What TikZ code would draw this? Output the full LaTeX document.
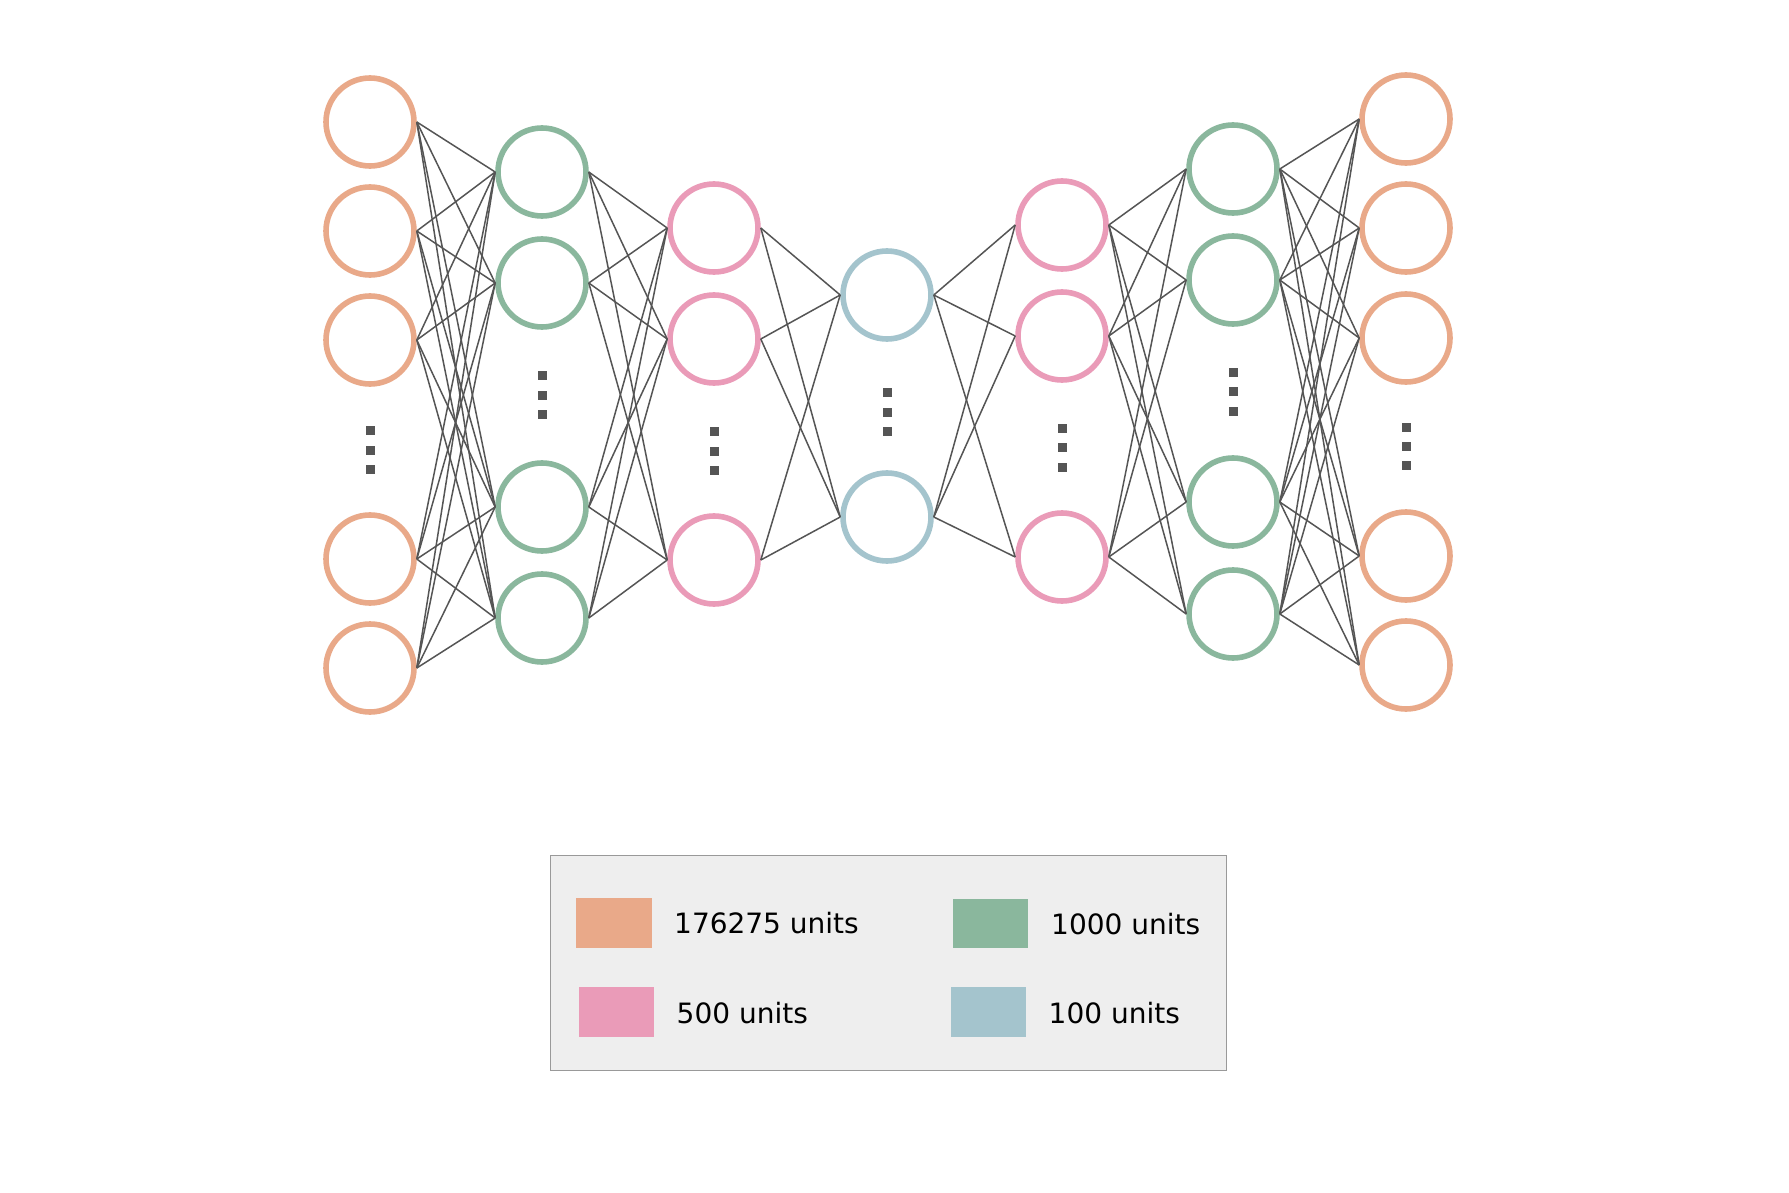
\documentclass[tikz,border=0pt]{standalone}
\usepackage{fontspec}
\setmainfont{DejaVu Sans}
\definecolor{corange}{HTML}{E9A989}
\definecolor{cgreen}{HTML}{8AB79D}
\definecolor{cpink}{HTML}{EA9BB8}
\definecolor{cblue}{HTML}{A4C4CD}
\definecolor{cedge}{HTML}{555555}
\definecolor{clegbg}{HTML}{EEEEEE}
\definecolor{clegframe}{HTML}{999999}
\begin{document}
\begin{tikzpicture}[x=1pt,y=-1pt,
  neuron/.style={circle,draw=#1,line width=5.6pt,minimum size=88pt,inner sep=0pt,fill=white},
  edge/.style={draw=cedge,line width=1.5pt},
  vdot/.style={rectangle,fill=cedge,minimum size=9pt,inner sep=0pt},
  swatch/.style={fill=#1,draw=none},
  leglabel/.style={anchor=west,font=\fontsize{28}{30}\selectfont,inner sep=0pt}]
\useasboundingbox[fill=white] (0,0) rectangle (1789,1193);

% layers
\foreach \y [count=\i] in {122,231,340,559,668} \node[neuron=corange] (A\i) at (370,\y) {};
\foreach \y [count=\i] in {172,283,507,618} \node[neuron=cgreen] (B\i) at (542,\y) {};
\foreach \y [count=\i] in {228,339,560} \node[neuron=cpink] (C\i) at (714,\y) {};
\foreach \y [count=\i] in {295,517} \node[neuron=cblue] (D\i) at (887,\y) {};
\foreach \y [count=\i] in {225,336,557} \node[neuron=cpink] (E\i) at (1062,\y) {};
\foreach \y [count=\i] in {169,280,502,614} \node[neuron=cgreen] (F\i) at (1233,\y) {};
\foreach \y [count=\i] in {119,228,338,556,665} \node[neuron=corange] (G\i) at (1406,\y) {};

% connections
\foreach \i in {1,...,5} \foreach \j in {1,...,4} \draw[edge] (A\i.east) -- (B\j.west);
\foreach \i in {1,...,4} \foreach \j in {1,...,3} \draw[edge] (B\i.east) -- (C\j.west);
\foreach \i in {1,...,3} \foreach \j in {1,2} \draw[edge] (C\i.east) -- (D\j.west);
\foreach \i in {1,2} \foreach \j in {1,...,3} \draw[edge] (D\i.east) -- (E\j.west);
\foreach \i in {1,...,3} \foreach \j in {1,...,4} \draw[edge] (E\i.east) -- (F\j.west);
\foreach \i in {1,...,4} \foreach \j in {1,...,5} \draw[edge] (F\i.east) -- (G\j.west);

% ellipsis dots
\foreach \y [count=\k] in {430,450,469} \node[vdot] (dA\k) at (370,\y) {};
\foreach \y [count=\k] in {375,395,414} \node[vdot] (dB\k) at (542,\y) {};
\foreach \y [count=\k] in {431,451,470} \node[vdot] (dC\k) at (714,\y) {};
\foreach \y [count=\k] in {392,412,431} \node[vdot] (dD\k) at (887,\y) {};
\foreach \y [count=\k] in {428,447,467} \node[vdot] (dE\k) at (1062,\y) {};
\foreach \y [count=\k] in {372,391,411} \node[vdot] (dF\k) at (1233,\y) {};
\foreach \y [count=\k] in {427,446,465} \node[vdot] (dG\k) at (1406,\y) {};

% legend
\draw[fill=clegbg,draw=clegframe,line width=1pt] (550,855) rectangle (1226,1070);
\fill[swatch=corange] (576,898) rectangle (651.5,948);
\fill[swatch=cgreen] (953,899) rectangle (1028,948);
\fill[swatch=cpink] (578.5,987) rectangle (654,1037);
\fill[swatch=cblue] (950.5,987) rectangle (1026,1037);
\node[leglabel] (l1) at (674,923) {176275 units};
\node[leglabel] (l2) at (1051,924) {1000 units};
\node[leglabel] (l3) at (676.5,1013) {500 units};
\node[leglabel] (l4) at (1048.5,1013) {100 units};
\end{tikzpicture}
\end{document}
